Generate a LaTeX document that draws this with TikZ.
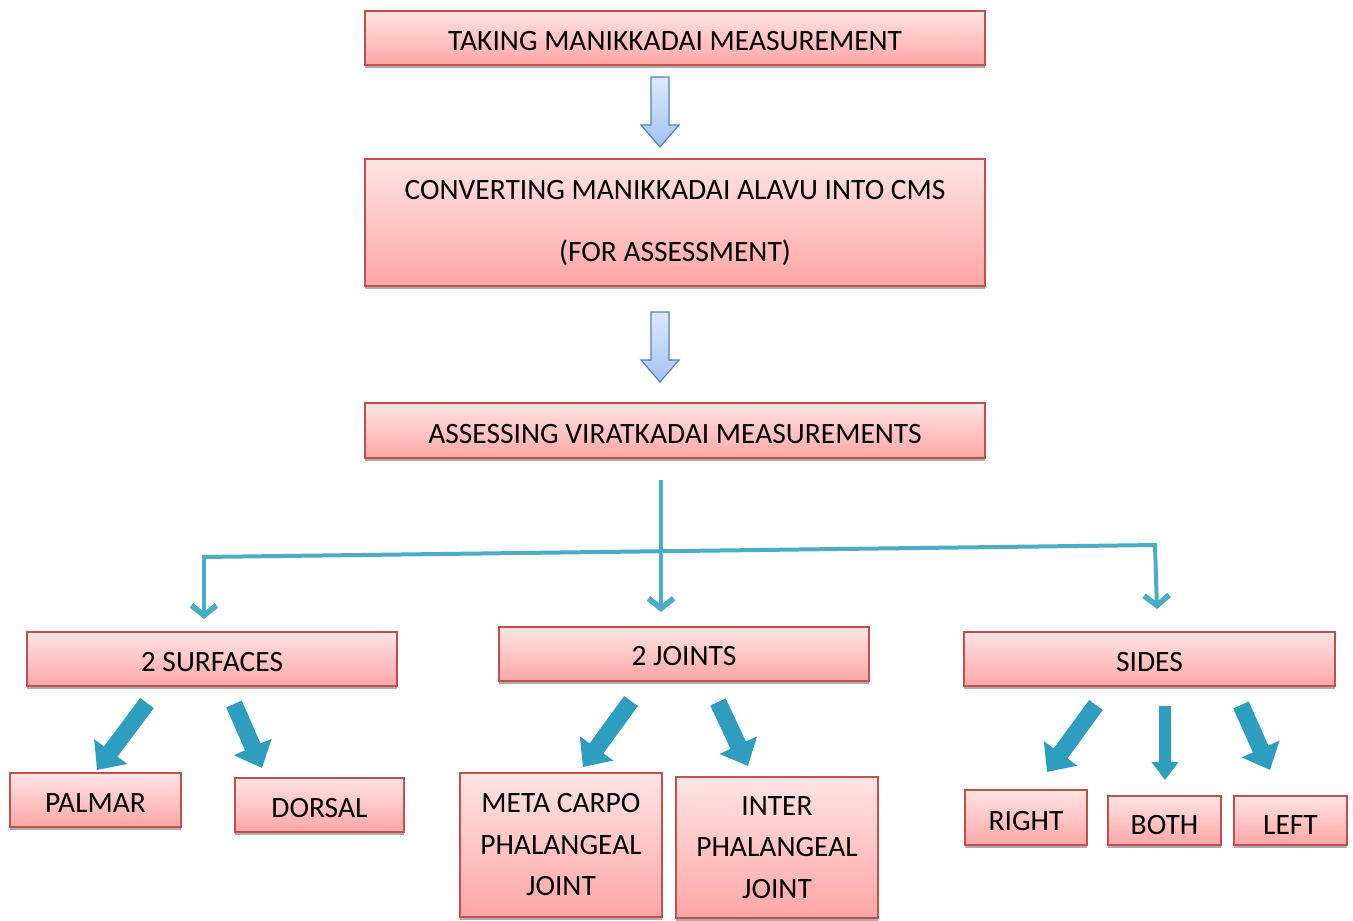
\documentclass[tikz,border=0pt]{standalone}
\usepackage{fontspec}
\setmainfont{Carlito}
\usetikzlibrary{arrows.meta,calc,shadows}
\definecolor{boxborder}{HTML}{C0504D}
\definecolor{boxtop}{HTML}{FFE4E4}
\definecolor{boxbot}{HTML}{FFA6A6}
\definecolor{connc}{HTML}{4BACC6}
\definecolor{fatc}{HTML}{2E9EC0}
\definecolor{holtop}{HTML}{DDE9FC}
\definecolor{holbot}{HTML}{A3C2F2}
\definecolor{holborder}{HTML}{4F81BD}
\tikzset{
  box/.style={draw=boxborder, line width=1.6pt, top color=boxtop, bottom color=boxbot,
    inner sep=0pt, align=center, font=\fontsize{29.5}{34}\selectfont,
    drop shadow={shadow xshift=0pt, shadow yshift=-3pt, fill=gray!80, opacity=0.8}},
  onebox/.style={box, text height=25pt, text depth=0pt},
  conn/.style={draw=connc, line width=4pt},
  connarrow/.style={conn, -{Straight Barb[length=10pt,width=25pt,line width=0pt 1.4]}},
  fat/.style={draw=fatc, line width=17pt, -{Triangle[length=23pt,width=40pt]}},
  fatsmall/.style={draw=fatc, line width=12pt, -{Triangle[length=18pt,width=26pt]}},
  hollow/.style={draw=holborder, line width=1.2pt, top color=holtop, bottom color=holbot}
}
\begin{document}
\begin{tikzpicture}[x=1pt,y=-1pt]
\useasboundingbox (0,0) rectangle (1353,921);
% boxes
\node[onebox, minimum width=620pt, minimum height=54pt] (b1) at (675,38) {TAKING MANIKKADAI MEASUREMENT};
\node[box, minimum width=620pt, minimum height=127pt, font=\fontsize{29.5}{62}\selectfont] (b2) at (675,222.5) {CONVERTING MANIKKADAI ALAVU INTO CMS\\(FOR ASSESSMENT)};
\node[onebox, minimum width=620pt, minimum height=55pt] (b3) at (675,430.5) {ASSESSING VIRATKADAI MEASUREMENTS};
\node[onebox, minimum width=370pt, minimum height=54pt] (surf) at (212,659) {2 SURFACES};
\node[onebox, minimum width=370pt, minimum height=54pt, text height=22pt] (joints) at (684,654) {2 JOINTS};
\node[onebox, minimum width=371pt, minimum height=54pt] (sides) at (1149.5,659) {SIDES};
\node[onebox, minimum width=171pt, minimum height=54pt] (palmar) at (95.5,800) {PALMAR};
\node[onebox, minimum width=169pt, minimum height=54pt] (dorsal) at (319.5,805) {DORSAL};
\node[box, minimum width=202pt, minimum height=144pt, font=\fontsize{29.5}{41.5}\selectfont] (meta) at (561,845) {META CARPO\\PHALANGEAL\\JOINT};
\node[box, minimum width=202pt, minimum height=141pt, font=\fontsize{29.5}{41.5}\selectfont] (inter) at (777,847.5) {INTER\\PHALANGEAL\\JOINT};
\node[onebox, minimum width=122pt, minimum height=55pt] (right) at (1026,817.5) {RIGHT};
\node[onebox, minimum width=113pt, minimum height=49pt, text height=28pt] (both) at (1164.5,820.5) {BOTH};
\node[onebox, minimum width=113pt, minimum height=49pt, text height=28pt] (left) at (1290.5,820.5) {LEFT};
% hollow arrows
\foreach \n/\s in {1/0,2/235}{
  \path[hollow] (651,77+\s) -- (669,77+\s) -- (669,125+\s) -- (679,125+\s) -- (660,147+\s)
     -- (641,125+\s) -- (651,125+\s) -- cycle;
}
% thin connectors
\coordinate (m0) at (661,480);
\coordinate (hl) at (204,557);
\coordinate (hr) at (1155,545);
\coordinate (aL) at (204,619);
\coordinate (aM) at (661,612);
\coordinate (aR) at (1157,609);
\draw[conn] ($(hl)+(-2,0)$) -- ($(hr)+(2,0)$);
\draw[connarrow] (hl) -- (aL);
\draw[connarrow] (m0) -- (aM);
\draw[connarrow] (hr) -- (aR);
% fat arrows
\coordinate (pS) at (147,703); \coordinate (pE) at (97,770);
\coordinate (dS) at (234,704); \coordinate (dE) at (262,768);
\coordinate (mS) at (631,701); \coordinate (mE) at (583,767);
\coordinate (iS) at (718,702); \coordinate (iE) at (748,766);
\coordinate (rS) at (1096,705); \coordinate (rE) at (1047,772);
\coordinate (bS) at (1165,706); \coordinate (bE) at (1165,780);
\coordinate (lS) at (1241,705); \coordinate (lE) at (1270,770);
\draw[fat] (pS) -- (pE);
\draw[fat] (dS) -- (dE);
\draw[fat] (mS) -- (mE);
\draw[fat] (iS) -- (iE);
\draw[fat] (rS) -- (rE);
\draw[fatsmall] (bS) -- (bE);
\draw[fat] (lS) -- (lE);
\end{tikzpicture}
\end{document}
